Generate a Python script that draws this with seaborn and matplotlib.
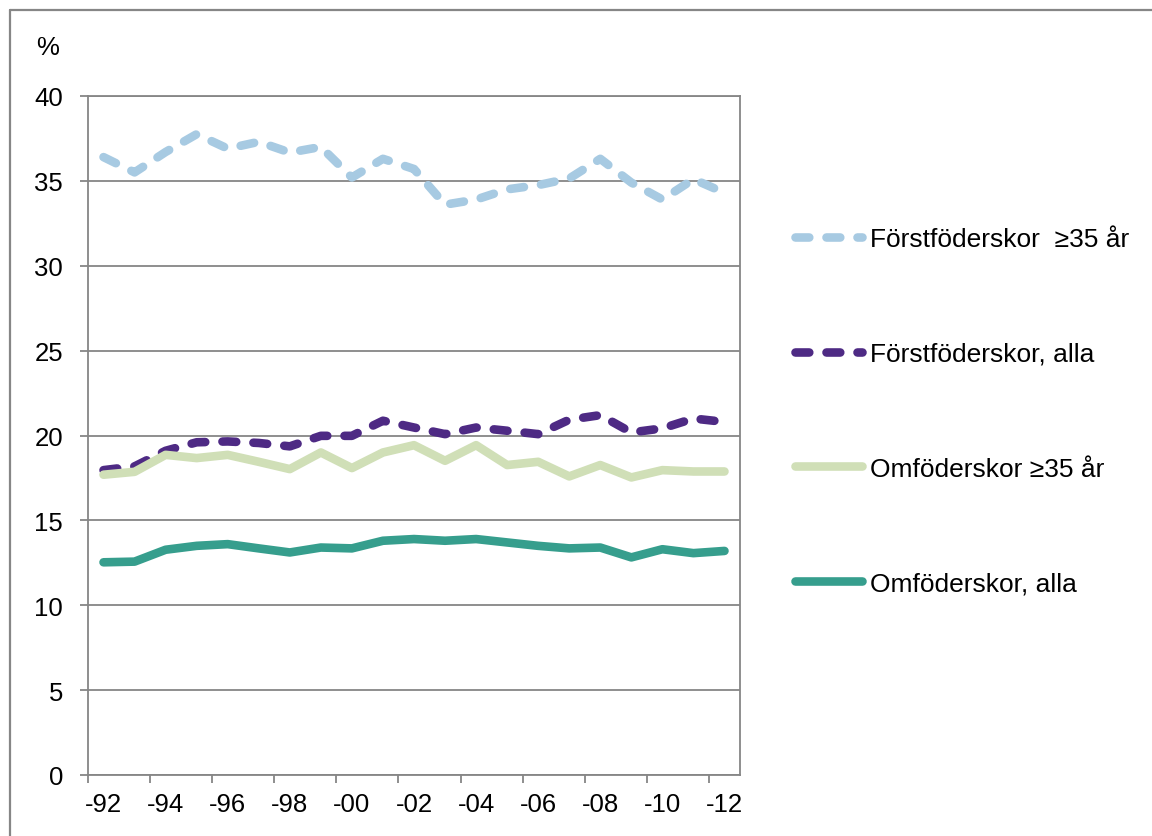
import matplotlib
matplotlib.use("Agg")
import matplotlib.pyplot as plt
from matplotlib.lines import Line2D
import seaborn as sns
import numpy as np

years = list(range(1992, 2013))
forst_35 = [36.4, 35.5, 36.7, 37.75, 36.9, 37.3, 36.67, 37.0, 35.2, 36.3, 35.7,
            33.6, 33.9, 34.5, 34.75, 35.14, 36.3, 34.9, 33.9, 35.1, 34.3]
forst_alla = [17.96, 18.18, 19.1, 19.6, 19.65, 19.56, 19.36, 19.98, 19.98, 20.87, 20.47,
              20.08, 20.47, 20.28, 20.08, 20.93, 21.2, 20.18, 20.42, 21.0, 20.8]
om_35 = [17.69, 17.86, 18.86, 18.67, 18.86, 18.45, 18.02, 19.0, 18.08, 19.0, 19.43,
         18.51, 19.43, 18.26, 18.45, 17.59, 18.26, 17.53, 17.96, 17.88, 17.88]
om_alla = [12.53, 12.57, 13.27, 13.5, 13.6, 13.35, 13.11, 13.4, 13.35, 13.8, 13.9,
           13.8, 13.9, 13.7, 13.5, 13.35, 13.4, 12.82, 13.3, 13.07, 13.2]

labels = ["Förstföderskor  ≥35 år", "Förstföderskor, alla", "Omföderskor ≥35 år", "Omföderskor, alla"]
colors = ["#A7CAE2", "#4E2A84", "#D0DFB7", "#369E8D"]
tick_years = list(range(1992, 2013, 2))
tick_labels = ["-92", "-94", "-96", "-98", "-00", "-02", "-04", "-06", "-08", "-10", "-12"]

sns.set_theme(style="white")
plt.rcParams['font.family'] = ['Liberation Sans', 'DejaVu Sans']
plt.rcParams['text.color'] = 'black'

W, H = 1152, 837
fig = plt.figure(figsize=(W / 100, H / 100), dpi=100)
ax = fig.add_axes([88 / W, 1 - 776 / H, (740 - 88) / W, (776 - 97) / H])

lw = 6.2
dash = (0, (1.6, 2.0))
series = [forst_35, forst_alla, om_35, om_alla]
styles = [dash, dash, '-', '-']
for vals, lab, col, ls in zip(series, labels, colors, styles):
    sns.lineplot(x=years, y=vals, ax=ax, color=col, lw=lw, linestyle=ls,
                 dash_capstyle='round', solid_capstyle='round',
                 solid_joinstyle='round', label=lab, zorder=3)

grey = "#868686"
ax.set_xlim(1991.5, 2012.5)
ax.set_ylim(0, 40)
ax.set_yticks(np.arange(0, 41, 5))
ax.yaxis.grid(True, color=grey, lw=1.3)
ax.xaxis.grid(False)
for s in ax.spines.values():
    s.set_color(grey)
    s.set_linewidth(1.3)

ax.set_xticks(np.arange(1991.5, 2012.0, 2))
ax.set_xticklabels([])
ax.set_xticks(tick_years, minor=True)
ax.set_xticklabels(tick_labels, minor=True)
ax.tick_params(axis='x', which='major', length=6, width=1.3, color=grey, direction='out', bottom=True)
ax.tick_params(axis='x', which='minor', length=0, pad=12, labelsize=18.5, labelcolor='black')
ax.tick_params(axis='y', length=6, width=1.3, color=grey, direction='out', left=True,
               pad=12, labelsize=18.5, labelcolor='black')
ax.set_xlabel("")
ax.set_ylabel("")

fig.text(48 / W, 1 - 48 / H, "%", fontsize=18.5, ha='center', va='center', color='black')

handles = []
for col, ls in zip(colors, styles):
    handles.append(Line2D([], [], color=col, lw=lw, linestyle=ls,
                          dash_capstyle='round', solid_capstyle='round'))
if ax.legend_:
    ax.legend_.remove()
leg = fig.legend(handles, labels, loc='upper left', bbox_to_anchor=(795 / W, 1 - 228 / H),
                 frameon=False, fontsize=19, handlelength=2.55, handletextpad=0.3,
                 labelspacing=3.44, borderpad=0, borderaxespad=0)
for t in leg.get_texts():
    t.set_color('black')

fig.add_artist(Line2D([10 / W, 10 / W], [-0.1, 1 - 11 / H], transform=fig.transFigure,
                      color=grey, lw=1.6))
fig.add_artist(Line2D([10 / W, 1.1], [1 - 11 / H, 1 - 11 / H], transform=fig.transFigure,
                      color=grey, lw=1.6))

fig.savefig("out.png", dpi=100)
